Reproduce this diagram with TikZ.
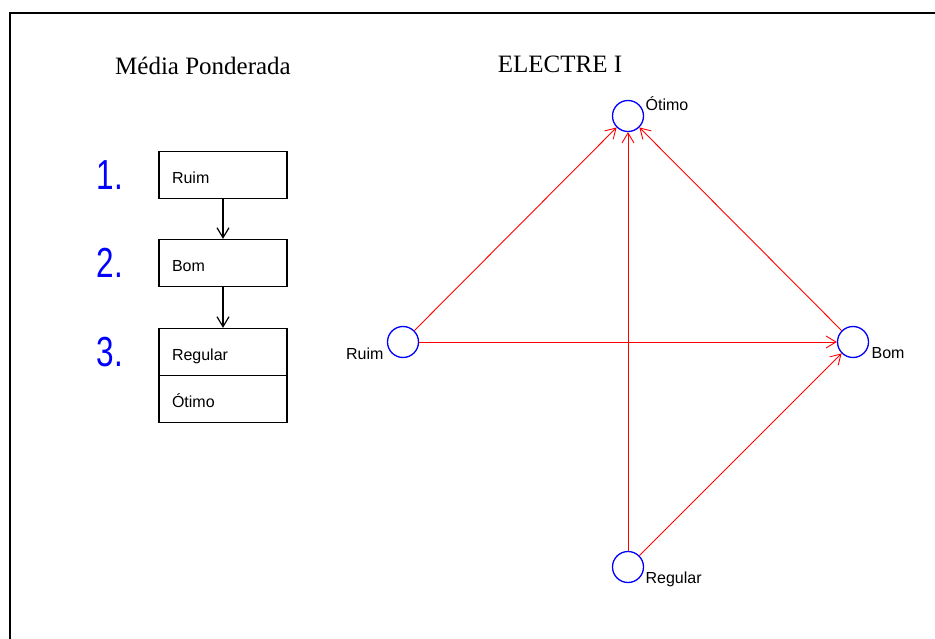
\documentclass[tikz,border=0pt]{standalone}
\usepackage{fontspec}
\setmainfont{Liberation Serif}
\setsansfont{Liberation Sans}
\usetikzlibrary{arrows.meta}

\begin{document}
\begin{tikzpicture}[x=1pt,y=-1pt,
	box/.style={draw,line width=1.2pt,minimum width=128pt,minimum height=47pt,text width=102pt,inner xsep=13pt,align=left,text height=17pt,text depth=0pt,font=\sffamily\fontsize{16}{18}\selectfont},
	num/.style={text=blue,font=\sffamily\fontsize{42}{42}\selectfont},
	vert/.style={circle,draw=blue,line width=1.3pt,minimum size=31pt,inner sep=0pt},
	lbl/.style={font=\sffamily\fontsize{16}{18}\selectfont,inner sep=0pt},
	title/.style={font=\fontsize{25}{30}\selectfont},
	outrank/.style={draw=red,line width=0.9pt,-{Straight Barb[length=10pt,width=12pt]}}]

	\useasboundingbox (0,0) rectangle (935,639);
	\draw[line width=2pt] (935,13) -- (10,13) -- (10,639);

	% weighted mean ranking
	\node[title] (mp) at (203,66) {Média Ponderada};
	\node[box] (ruimbox) at (223,175) {Ruim};
	\node[box] (bombox) [below of=ruimbox, node distance=88pt] {Bom};
	\node[box] (regbox) [below of=bombox, node distance=89pt] {Regular};
	\node[box] (otbox) [below of=regbox, node distance=47pt] {Ótimo};
	\node[num] (n1) [left of=ruimbox, node distance=113pt] {\scalebox{0.75}[1]{1.}};
	\node[num] (n2) [left of=bombox, node distance=113pt] {\scalebox{0.75}[1]{2.}};
	\node[num] (n3) [left of=regbox, node distance=113pt] {\scalebox{0.75}[1]{3.}};
	\path[line width=1.2pt,-{Straight Barb[length=10pt,width=12pt]}] (ruimbox) edge (bombox);
	\path[line width=1.2pt,-{Straight Barb[length=10pt,width=12pt]}] (bombox) edge (regbox);

	% outranking graph
	\node[title] (el) at (560,64) {ELECTRE I};
	\node[vert, label={[lbl,anchor=west,xshift=6pt,yshift=1pt]45:Ótimo}] (otimo) at (628,116) {};
	\node[vert, label={[lbl,anchor=east,xshift=-7pt,yshift=-1pt]220:Ruim}] (ruim) at (403,342) {};
	\node[vert, label={[lbl,anchor=west,xshift=6pt,yshift=-1pt]-40:Bom}] (bom) at (853,342) {};
	\node[vert, label={[lbl,anchor=west,xshift=6pt,yshift=-1pt]-45:Regular}] (regular) at (628,567) {};
	\path[outrank] (ruim) edge (otimo);
	\path[outrank] (ruim) edge (bom);
	\path[outrank] (bom) edge (otimo);
	\path[outrank] (regular) edge (otimo);
	\path[outrank] (regular) edge (bom);

\end{tikzpicture}
\end{document}
